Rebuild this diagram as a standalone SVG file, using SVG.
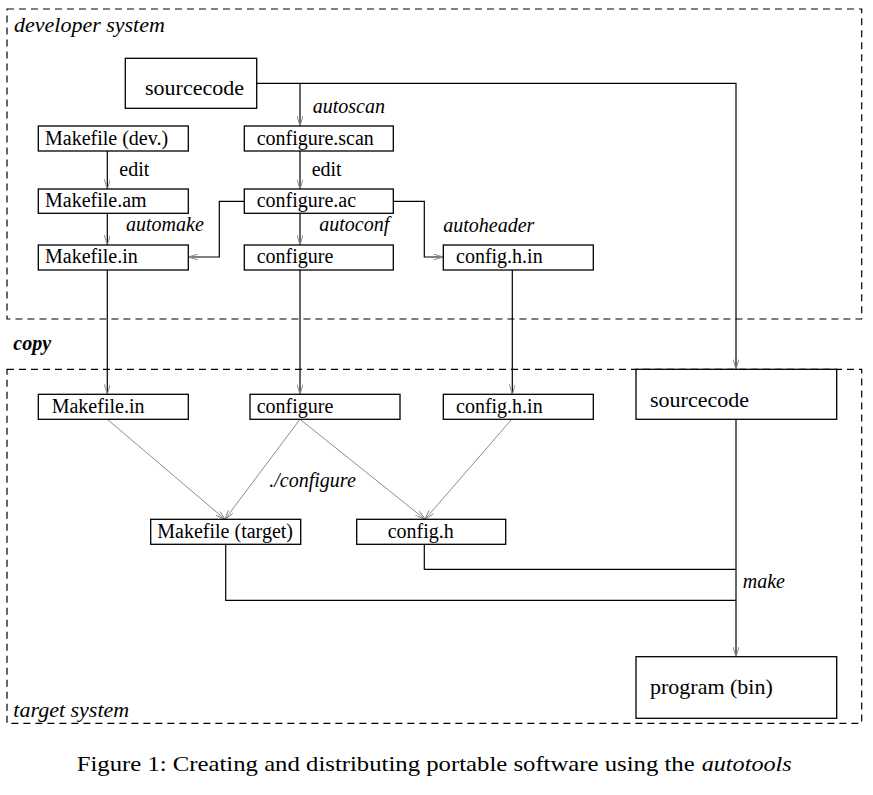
<svg xmlns="http://www.w3.org/2000/svg" width="873" height="795" viewBox="0 0 873 795">
<style>
text{font-family:"Liberation Serif","Times New Roman",serif;fill:#000}
.lbl{font-size:20px}
.big{font-size:22px}
.it{font-style:italic;font-size:20px}
.sys{font-style:italic;font-size:22px}
.box{fill:#fff;stroke:#000;stroke-width:1.3}
.dash{fill:none;stroke:#000;stroke-width:1.2;stroke-dasharray:7 5}
.ln{fill:none;stroke:#000;stroke-width:1.2}
.gl{fill:none;stroke:#8c8c8c;stroke-width:1}
</style>
<defs>
<marker id="ah" viewBox="0 0 10 6" refX="10" refY="3" markerWidth="10" markerHeight="6" markerUnits="userSpaceOnUse" orient="auto">
<path d="M0,0 L10,3 L0,6" fill="none" stroke="#8c8c8c" stroke-width="1"/>
</marker>
</defs>
<rect width="873" height="795" fill="#fff"/>
<g id="regions">
<rect class="dash" x="7" y="9" width="854.7" height="310"/>
<rect class="dash" x="7" y="369.3" width="854.7" height="354"/>
<text class="sys" x="14" y="32">developer system</text>
<text x="13.3" y="350" style="font-style:italic;font-weight:bold;font-size:20px">copy</text>
<text class="sys" x="13.3" y="716.7">target system</text>
</g>
<g id="connectors">
<path class="ln" d="M256.7,83.3 H736 V369.3" marker-end="url(#ah)"/>
<path class="ln" d="M300,83.3 V126" marker-end="url(#ah)"/>
<path class="ln" d="M107.3,151 V189.3" marker-end="url(#ah)"/>
<path class="ln" d="M300,151 V189.3" marker-end="url(#ah)"/>
<path class="ln" d="M107.3,213.3 V245" marker-end="url(#ah)"/>
<path class="ln" d="M300,213.3 V245" marker-end="url(#ah)"/>
<path class="ln" d="M244.3,201.3 H219.3 V257 H188.3" marker-end="url(#ah)"/>
<path class="ln" d="M393.3,201.3 H424.3 V257 H443.3" marker-end="url(#ah)"/>
<path class="ln" d="M107.3,270 V394.3" marker-end="url(#ah)"/>
<path class="ln" d="M300,270 V394.3" marker-end="url(#ah)"/>
<path class="ln" d="M512.3,270 V394.3" marker-end="url(#ah)"/>
<path class="gl" d="M107.3,419.3 L225,519.3" marker-end="url(#ah)"/>
<path class="gl" d="M300,419.3 L225,519.3" marker-end="url(#ah)"/>
<path class="gl" d="M300,419.3 L425,519.3" marker-end="url(#ah)"/>
<path class="gl" d="M511.7,419.3 L425,519.3" marker-end="url(#ah)"/>
<path class="ln" d="M736,419.3 V656.7" marker-end="url(#ah)"/>
<path class="ln" d="M225.7,544.3 V600.3 H736"/>
<path class="ln" d="M424.3,544.3 V569.3 H736"/>
<text class="it" x="312.7" y="113">autoscan</text>
<text class="lbl" x="119.3" y="176">edit</text>
<text class="lbl" x="311.7" y="176">edit</text>
<text class="it" x="126" y="231">automake</text>
<text class="it" x="319.3" y="231">autoconf</text>
<text class="it" x="443.3" y="231.7">autoheader</text>
<text class="it" x="269.3" y="487.3">./configure</text>
<text class="it" x="742.7" y="587.7">make</text>
</g>
<g id="src_dev"><rect class="box" x="125.3" y="58.3" width="131.4" height="50"/><text class="big" x="145" y="95">sourcecode</text></g>
<g id="mk_dev"><rect class="box" x="38.3" y="126" width="150" height="25"/><text class="lbl" x="45" y="145">Makefile (dev.)</text></g>
<g id="mk_am"><rect class="box" x="38.3" y="189" width="150" height="24.3"/><text class="lbl" x="45" y="207.3">Makefile.am</text></g>
<g id="mk_in_dev"><rect class="box" x="38.3" y="245" width="150" height="25"/><text class="lbl" x="45" y="263.3">Makefile.in</text></g>
<g id="cfg_scan"><rect class="box" x="244.3" y="126" width="149" height="25"/><text class="lbl" x="256.7" y="145">configure.scan</text></g>
<g id="cfg_ac"><rect class="box" x="244.3" y="189" width="149" height="24.3"/><text class="lbl" x="256.7" y="207.3">configure.ac</text></g>
<g id="cfg_dev"><rect class="box" x="244.3" y="245" width="149" height="25"/><text class="lbl" x="256.7" y="263.3">configure</text></g>
<g id="cfghin_dev"><rect class="box" x="443.3" y="245" width="150" height="25"/><text class="lbl" x="456" y="263.3">config.h.in</text></g>
<g id="mk_in_t"><rect class="box" x="38.3" y="394.3" width="150" height="25"/><text class="lbl" x="51.7" y="412.7">Makefile.in</text></g>
<g id="cfg_t"><rect class="box" x="250" y="394.3" width="150" height="25"/><text class="lbl" x="256.7" y="412.7">configure</text></g>
<g id="cfghin_t"><rect class="box" x="443.3" y="394.3" width="150" height="25"/><text class="lbl" x="456" y="412.7">config.h.in</text></g>
<g id="src_t"><rect class="box" x="636" y="369.3" width="200.7" height="50"/><text class="big" x="650" y="406.7">sourcecode</text></g>
<g id="mk_target"><rect class="box" x="150.7" y="519.3" width="150" height="25"/><text class="lbl" x="157.3" y="537.7">Makefile (target)</text></g>
<g id="cfgh"><rect class="box" x="356.7" y="519.3" width="149" height="25"/><text class="lbl" x="387.7" y="537.7">config.h</text></g>
<g id="prog"><rect class="box" x="636" y="656.7" width="200.7" height="61.6"/><text class="big" x="650" y="694">program (bin)</text></g>
<g id="caption">
<text x="76.7" y="771" style="font-size:22px" textLength="618" lengthAdjust="spacingAndGlyphs">Figure 1: Creating and distributing portable software using the</text>
<text x="701.7" y="771" style="font-size:22px;font-style:italic" textLength="90" lengthAdjust="spacingAndGlyphs">autotools</text>
</g>
</svg>
